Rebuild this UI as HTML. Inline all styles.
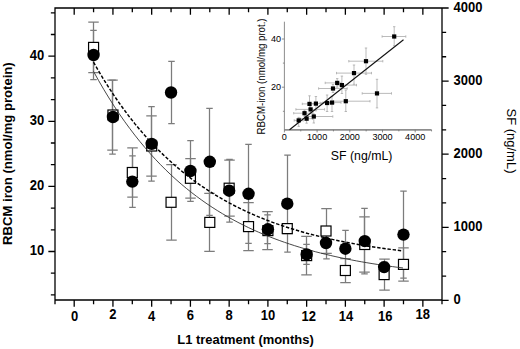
<!DOCTYPE html>
<html><head><meta charset="utf-8"><style>
html,body{margin:0;padding:0;background:#fff;}
svg{display:block;}
</style></head><body>
<svg width="520" height="349" viewBox="0 0 520 349">
<rect x="0" y="0" width="520" height="349" fill="#fff"/>
<path d="M93.50 22.20V72.60M88.25 22.20h10.5M88.25 72.60h10.5M112.50 80.00V150.00M107.25 80.00h10.5M107.25 150.00h10.5M132.50 147.80V197.20M127.25 147.80h10.5M127.25 197.20h10.5M151.50 115.80V176.20M146.25 115.80h10.5M146.25 176.20h10.5M171.50 164.50V240.10M166.25 164.50h10.5M166.25 240.10h10.5M190.50 158.50V198.10M185.25 158.50h10.5M185.25 198.10h10.5M209.50 193.40V251.40M204.25 193.40h10.5M204.25 251.40h10.5M229.50 160.20V216.20M224.25 160.20h10.5M224.25 216.20h10.5M248.50 202.50V250.70M243.25 202.50h10.5M243.25 250.70h10.5M267.50 211.60V249.60M262.25 211.60h10.5M262.25 249.60h10.5M287.50 223.60V233.60M282.25 223.60h10.5M282.25 233.60h10.5M306.50 236.30V274.90M301.25 236.30h10.5M301.25 274.90h10.5M326.50 208.70V253.30M321.25 208.70h10.5M321.25 253.30h10.5M345.50 258.50V282.50M340.25 258.50h10.5M340.25 282.50h10.5M364.50 216.90V272.10M359.25 216.90h10.5M359.25 272.10h10.5M384.50 259.10V290.10M379.25 259.10h10.5M379.25 290.10h10.5M403.50 247.80V281.00M398.25 247.80h10.5M398.25 281.00h10.5" stroke="#7c7c7c" stroke-width="1.25" fill="none"/>
<path d="M93.50 30.40V79.60M90.25 30.40h6.5M90.25 79.60h6.5M112.50 80.00V154.00M109.25 80.00h6.5M109.25 154.00h6.5M132.50 155.90V207.30M129.25 155.90h6.5M129.25 207.30h6.5M151.50 106.60V181.20M148.25 106.60h6.5M148.25 181.20h6.5M171.50 61.30V123.70M168.25 61.30h6.5M168.25 123.70h6.5M190.50 140.60V201.40M187.25 140.60h6.5M187.25 201.40h6.5M209.50 108.30V215.30M206.25 108.30h6.5M206.25 215.30h6.5M229.50 159.40V222.00M226.25 159.40h6.5M226.25 222.00h6.5M248.50 144.30V243.30M245.25 144.30h6.5M245.25 243.30h6.5M267.50 214.90V243.70M264.25 214.90h6.5M264.25 243.70h6.5M287.50 155.20V252.20M284.25 155.20h6.5M284.25 252.20h6.5M306.50 244.40V264.40M303.25 244.40h6.5M303.25 264.40h6.5M326.50 227.20V258.80M323.25 227.20h6.5M323.25 258.80h6.5M345.50 230.30V267.10M342.25 230.30h6.5M342.25 267.10h6.5M364.50 208.30V273.90M361.25 208.30h6.5M361.25 273.90h6.5M384.50 262.10V272.10M381.25 262.10h6.5M381.25 272.10h6.5M403.50 191.00V278.20M400.25 191.00h6.5M400.25 278.20h6.5" stroke="#7c7c7c" stroke-width="1.25" fill="none"/>
<rect x="88.57" y="42.40" width="10" height="10" fill="#fff" stroke="#000" stroke-width="1.2"/>
<rect x="107.94" y="110.00" width="10" height="10" fill="#fff" stroke="#000" stroke-width="1.2"/>
<rect x="127.31" y="167.50" width="10" height="10" fill="#fff" stroke="#000" stroke-width="1.2"/>
<rect x="146.68" y="141.00" width="10" height="10" fill="#fff" stroke="#000" stroke-width="1.2"/>
<rect x="166.05" y="197.30" width="10" height="10" fill="#fff" stroke="#000" stroke-width="1.2"/>
<rect x="185.42" y="173.30" width="10" height="10" fill="#fff" stroke="#000" stroke-width="1.2"/>
<rect x="204.79" y="217.40" width="10" height="10" fill="#fff" stroke="#000" stroke-width="1.2"/>
<rect x="224.16" y="183.20" width="10" height="10" fill="#fff" stroke="#000" stroke-width="1.2"/>
<rect x="243.53" y="221.60" width="10" height="10" fill="#fff" stroke="#000" stroke-width="1.2"/>
<rect x="262.90" y="225.60" width="10" height="10" fill="#fff" stroke="#000" stroke-width="1.2"/>
<rect x="282.27" y="223.60" width="10" height="10" fill="#fff" stroke="#000" stroke-width="1.2"/>
<rect x="301.64" y="250.60" width="10" height="10" fill="#fff" stroke="#000" stroke-width="1.2"/>
<rect x="321.01" y="226.00" width="10" height="10" fill="#fff" stroke="#000" stroke-width="1.2"/>
<rect x="340.38" y="265.50" width="10" height="10" fill="#fff" stroke="#000" stroke-width="1.2"/>
<rect x="359.75" y="239.50" width="10" height="10" fill="#fff" stroke="#000" stroke-width="1.2"/>
<rect x="379.12" y="269.60" width="10" height="10" fill="#fff" stroke="#000" stroke-width="1.2"/>
<rect x="398.49" y="259.40" width="10" height="10" fill="#fff" stroke="#000" stroke-width="1.2"/>
<path d="M93.50,71.38 L98.66,80.65 L103.82,89.51 L108.97,97.99 L114.13,106.09 L119.29,113.83 L124.45,121.24 L129.61,128.31 L134.77,135.08 L139.93,141.55 L145.08,147.73 L150.24,153.65 L155.40,159.30 L160.56,164.70 L165.72,169.87 L170.88,174.81 L176.03,179.53 L181.19,184.04 L186.35,188.36 L191.51,192.49 L196.67,196.43 L201.82,200.20 L206.98,203.81 L212.14,207.25 L217.30,210.55 L222.46,213.70 L227.62,216.71 L232.78,219.59 L237.93,222.34 L243.09,224.97 L248.25,227.49 L253.41,229.89 L258.57,232.19 L263.73,234.39 L268.88,236.49 L274.04,238.50 L279.20,240.42 L284.36,242.25 L289.52,244.01 L294.68,245.69 L299.83,247.29 L304.99,248.83 L310.15,250.29 L315.31,251.69 L320.47,253.03 L325.62,254.31 L330.78,255.54 L335.94,256.71 L341.10,257.83 L346.26,258.90 L351.42,259.92 L356.57,260.90 L361.73,261.84 L366.89,262.73 L372.05,263.58 L377.21,264.40 L382.37,265.18 L387.52,265.93 L392.68,266.64 L397.84,267.33 L403.00,267.98" stroke="#333" stroke-width="0.9" fill="none"/>
<path d="M93.50,62.13 L98.66,71.09 L103.82,79.65 L108.97,87.83 L114.13,95.64 L119.29,103.12 L124.45,110.26 L129.61,117.08 L134.77,123.60 L139.93,129.83 L145.08,135.79 L150.24,141.48 L155.40,146.92 L160.56,152.12 L165.72,157.08 L170.88,161.83 L176.03,166.37 L181.19,170.70 L186.35,174.85 L191.51,178.81 L196.67,182.59 L201.82,186.21 L206.98,189.67 L212.14,192.97 L217.30,196.13 L222.46,199.14 L227.62,202.03 L232.78,204.78 L237.93,207.41 L243.09,209.93 L248.25,212.33 L253.41,214.63 L258.57,216.83 L263.73,218.93 L268.88,220.93 L274.04,222.85 L279.20,224.68 L284.36,226.43 L289.52,228.11 L294.68,229.71 L299.83,231.23 L304.99,232.70 L310.15,234.09 L315.31,235.42 L320.47,236.70 L325.62,237.92 L330.78,239.08 L335.94,240.19 L341.10,241.26 L346.26,242.27 L351.42,243.24 L356.57,244.17 L361.73,245.06 L366.89,245.91 L372.05,246.72 L377.21,247.49 L382.37,248.23 L387.52,248.94 L392.68,249.61 L397.84,250.26 L403.00,250.88" stroke="#000" stroke-width="1.45" fill="none" stroke-dasharray="3.4 1.8"/>
<circle cx="93.57" cy="55.00" r="6.2" fill="#000"/>
<circle cx="112.94" cy="117.00" r="6.2" fill="#000"/>
<circle cx="132.31" cy="181.60" r="6.2" fill="#000"/>
<circle cx="151.68" cy="143.90" r="6.2" fill="#000"/>
<circle cx="171.05" cy="92.50" r="6.2" fill="#000"/>
<circle cx="190.42" cy="171.00" r="6.2" fill="#000"/>
<circle cx="209.79" cy="161.80" r="6.2" fill="#000"/>
<circle cx="229.16" cy="190.70" r="6.2" fill="#000"/>
<circle cx="248.53" cy="193.80" r="6.2" fill="#000"/>
<circle cx="267.90" cy="229.30" r="6.2" fill="#000"/>
<circle cx="287.27" cy="203.70" r="6.2" fill="#000"/>
<circle cx="306.64" cy="254.40" r="6.2" fill="#000"/>
<circle cx="326.01" cy="243.00" r="6.2" fill="#000"/>
<circle cx="345.38" cy="248.70" r="6.2" fill="#000"/>
<circle cx="364.75" cy="241.10" r="6.2" fill="#000"/>
<circle cx="384.12" cy="267.10" r="6.2" fill="#000"/>
<circle cx="403.49" cy="234.60" r="6.2" fill="#000"/>
<path d="M55 8H442V300H55ZM55.00 300v3.5M55.00 8v3.5M74.20 300v6M74.20 8v6M93.57 300v3.5M93.57 8v3.5M112.94 300v6M112.94 8v6M132.31 300v3.5M132.31 8v3.5M151.68 300v6M151.68 8v6M171.05 300v3.5M171.05 8v3.5M190.42 300v6M190.42 8v6M209.79 300v3.5M209.79 8v3.5M229.16 300v6M229.16 8v6M248.53 300v3.5M248.53 8v3.5M267.90 300v6M267.90 8v6M287.27 300v3.5M287.27 8v3.5M306.64 300v6M306.64 8v6M326.01 300v3.5M326.01 8v3.5M345.38 300v6M345.38 8v6M364.75 300v3.5M364.75 8v3.5M384.12 300v6M384.12 8v6M403.49 300v3.5M403.49 8v3.5M422.86 300v6M422.86 8v6M442.00 300v3.5M442.00 8v3.5M55 56.20h-6M55 77.90h-3.5M55 99.60h-3.5M55 121.30h-6M55 143.00h-3.5M55 164.70h-3.5M55 186.40h-6M55 208.10h-3.5M55 229.80h-3.5M55 251.50h-6M55 273.20h-3.5M55 294.90h-3.5M55 34.50h-3.5M55 12.80h-3.5M442 300.40h6M442 276.03h3.5M442 251.67h3.5M442 227.30h6M442 202.93h3.5M442 178.57h3.5M442 154.20h6M442 129.83h3.5M442 105.47h3.5M442 81.10h6M442 56.73h3.5M442 32.37h3.5M442 8.00h6" stroke="#000" stroke-width="1.3" fill="none" stroke-linecap="square"/>
<text transform="translate(44.30 255.10) scale(0.93 1)" font-family="Liberation Sans, sans-serif" font-weight="bold" font-size="14" text-anchor="end" fill="#000">10</text>
<text transform="translate(44.30 190.00) scale(0.93 1)" font-family="Liberation Sans, sans-serif" font-weight="bold" font-size="14" text-anchor="end" fill="#000">20</text>
<text transform="translate(44.30 124.90) scale(0.93 1)" font-family="Liberation Sans, sans-serif" font-weight="bold" font-size="14" text-anchor="end" fill="#000">30</text>
<text transform="translate(44.30 59.80) scale(0.93 1)" font-family="Liberation Sans, sans-serif" font-weight="bold" font-size="14" text-anchor="end" fill="#000">40</text>
<text transform="translate(74.60 320.60) scale(0.93 1)" font-family="Liberation Sans, sans-serif" font-weight="bold" font-size="14" text-anchor="middle" fill="#000">0</text>
<text transform="translate(112.94 319.10) scale(0.93 1)" font-family="Liberation Sans, sans-serif" font-weight="bold" font-size="14" text-anchor="middle" fill="#000">2</text>
<text transform="translate(151.68 321.30) scale(0.93 1)" font-family="Liberation Sans, sans-serif" font-weight="bold" font-size="14" text-anchor="middle" fill="#000">4</text>
<text transform="translate(190.42 319.90) scale(0.93 1)" font-family="Liberation Sans, sans-serif" font-weight="bold" font-size="14" text-anchor="middle" fill="#000">6</text>
<text transform="translate(229.16 320.10) scale(0.93 1)" font-family="Liberation Sans, sans-serif" font-weight="bold" font-size="14" text-anchor="middle" fill="#000">8</text>
<text transform="translate(267.90 320.10) scale(0.93 1)" font-family="Liberation Sans, sans-serif" font-weight="bold" font-size="14" text-anchor="middle" fill="#000">10</text>
<text transform="translate(308.64 320.90) scale(0.93 1)" font-family="Liberation Sans, sans-serif" font-weight="bold" font-size="14" text-anchor="middle" fill="#000">12</text>
<text transform="translate(346.08 320.90) scale(0.93 1)" font-family="Liberation Sans, sans-serif" font-weight="bold" font-size="14" text-anchor="middle" fill="#000">14</text>
<text transform="translate(385.32 320.70) scale(0.93 1)" font-family="Liberation Sans, sans-serif" font-weight="bold" font-size="14" text-anchor="middle" fill="#000">16</text>
<text transform="translate(422.86 319.20) scale(0.93 1)" font-family="Liberation Sans, sans-serif" font-weight="bold" font-size="14" text-anchor="middle" fill="#000">18</text>
<text transform="translate(453.60 304.00) scale(0.93 1)" font-family="Liberation Sans, sans-serif" font-weight="bold" font-size="14" text-anchor="start" fill="#000">0</text>
<text transform="translate(453.60 230.90) scale(0.93 1)" font-family="Liberation Sans, sans-serif" font-weight="bold" font-size="14" text-anchor="start" fill="#000">1000</text>
<text transform="translate(453.60 157.80) scale(0.93 1)" font-family="Liberation Sans, sans-serif" font-weight="bold" font-size="14" text-anchor="start" fill="#000">2000</text>
<text transform="translate(453.60 84.70) scale(0.93 1)" font-family="Liberation Sans, sans-serif" font-weight="bold" font-size="14" text-anchor="start" fill="#000">3000</text>
<text transform="translate(453.60 11.60) scale(0.93 1)" font-family="Liberation Sans, sans-serif" font-weight="bold" font-size="14" text-anchor="start" fill="#000">4000</text>
<text transform="translate(245.50 343.80) scale(0.965 1)" font-family="Liberation Sans, sans-serif" font-weight="bold" font-size="13.4" text-anchor="middle" fill="#000">L1 treatment (months)</text>
<text transform="translate(11.50 153.60) rotate(-90)" font-family="Liberation Sans, sans-serif" font-weight="bold" font-size="13.1" text-anchor="middle" fill="#000">RBCM iron (nmol/mg protein)</text>
<text transform="translate(507.00 141.00) rotate(90)" font-family="Liberation Sans, sans-serif" font-size="13" text-anchor="middle" fill="#000">SF (ng/mL)</text>
<path d="M284.4 21.7V129.9H431.5M284.40 129.9v2.5M300.75 129.9v1.5M317.10 129.9v2.5M333.45 129.9v1.5M349.80 129.9v2.5M366.15 129.9v1.5M382.50 129.9v2.5M398.85 129.9v1.5M415.20 129.9v2.5M431.55 129.9v1.5M284.4 111.30h-1.5M284.4 87.20h-2.5M284.4 63.10h-1.5M284.4 39.00h-2.5" stroke="#808080" stroke-width="0.9" fill="none"/>
<path d="M284.4 129.9H431.5" stroke="#666" stroke-width="0.9" fill="none"/>
<text x="284.40" y="139.8" font-family="Liberation Sans, sans-serif" font-size="9.1" text-anchor="middle" fill="#000">0</text>
<text x="317.10" y="139.8" font-family="Liberation Sans, sans-serif" font-size="9.1" text-anchor="middle" fill="#000">1000</text>
<text x="349.80" y="139.8" font-family="Liberation Sans, sans-serif" font-size="9.1" text-anchor="middle" fill="#000">2000</text>
<text x="382.50" y="139.8" font-family="Liberation Sans, sans-serif" font-size="9.1" text-anchor="middle" fill="#000">3000</text>
<text x="415.20" y="139.8" font-family="Liberation Sans, sans-serif" font-size="9.1" text-anchor="middle" fill="#000">4000</text>
<text x="281" y="90.30" font-family="Liberation Sans, sans-serif" font-size="9.1" text-anchor="end" fill="#000">20</text>
<text x="281" y="42.10" font-family="Liberation Sans, sans-serif" font-size="9.1" text-anchor="end" fill="#000">40</text>
<text x="361.6" y="159.8" font-family="Liberation Sans, sans-serif" font-size="12.3" text-anchor="middle">SF (ng/mL)</text>
<text transform="translate(264.9 76.4) rotate(-90) scale(0.93 1)" font-family="Liberation Sans, sans-serif" font-size="10.4" text-anchor="middle">RBCM-iron (nmol/mg prot.)</text>
<path d="M294.20 120.40H303.20M298.70 117.40V126.40M294.20 119.20v2.4M303.20 119.20v2.4M297.50 117.40h2.4M297.50 126.40h2.4M300.60 118.70H312.60M306.60 115.70V123.20M300.60 117.50v2.4M312.60 117.50v2.4M305.40 115.70h2.4M305.40 123.20h2.4M305.80 116.50H332.80M313.80 114.00V123.00M305.80 115.30v2.4M332.80 115.30v2.4M312.60 114.00h2.4M312.60 123.00h2.4M293.70 113.20H313.00M304.50 110.20V116.20M293.70 112.00v2.4M313.00 112.00v2.4M303.30 110.20h2.4M303.30 116.20h2.4M295.90 109.40H324.60M310.60 105.90V112.90M295.90 108.20v2.4M324.60 108.20v2.4M309.40 105.90h2.4M309.40 112.90h2.4M302.30 103.90H316.50M309.50 95.80V108.70M302.30 102.70v2.4M316.50 102.70v2.4M308.30 95.80h2.4M308.30 108.70h2.4M309.90 103.60H321.90M315.90 96.50V110.80M309.90 102.40v2.4M321.90 102.40v2.4M314.70 96.50h2.4M314.70 110.80h2.4M320.10 103.00H334.10M327.10 95.00V111.50M320.10 101.80v2.4M334.10 101.80v2.4M325.90 95.00h2.4M325.90 111.50h2.4M323.00 102.60H341.00M332.00 96.50V111.50M323.00 101.40v2.4M341.00 101.40v2.4M330.80 96.50h2.4M330.80 111.50h2.4M333.60 101.20H370.00M345.80 90.00V111.50M333.60 100.00v2.4M370.00 100.00v2.4M344.60 90.00h2.4M344.60 111.50h2.4M318.60 88.50H347.20M333.00 84.50V92.50M318.60 87.30v2.4M347.20 87.30v2.4M331.80 84.50h2.4M331.80 92.50h2.4M325.20 82.90H341.20M337.20 78.60V87.20M325.20 81.70v2.4M341.20 81.70v2.4M336.00 78.60h2.4M336.00 87.20h2.4M336.90 85.10H356.50M341.90 76.10V93.50M336.90 83.90v2.4M356.50 83.90v2.4M340.70 76.10h2.4M340.70 93.50h2.4M336.50 73.10H371.50M354.00 65.00V84.30M336.50 71.90v2.4M371.50 71.90v2.4M352.80 65.00h2.4M352.80 84.30h2.4M348.80 61.20H382.80M366.00 48.00V74.30M348.80 60.00v2.4M382.80 60.00v2.4M364.80 48.00h2.4M364.80 74.30h2.4M362.20 93.40H391.50M377.00 79.30V107.90M362.20 92.20v2.4M391.50 92.20v2.4M375.80 79.30h2.4M375.80 107.90h2.4M382.10 36.50H405.80M394.20 26.70V45.70M382.10 35.30v2.4M405.80 35.30v2.4M393.00 26.70h2.4M393.00 45.70h2.4" stroke="#aaa" stroke-width="0.8" fill="none"/>
<path d="M289.5 129.8L403.5 39.7" stroke="#111" stroke-width="1.1" fill="none"/>
<rect x="296.60" y="118.30" width="4.2" height="4.2" fill="#000"/>
<rect x="304.50" y="116.60" width="4.2" height="4.2" fill="#000"/>
<rect x="311.70" y="114.40" width="4.2" height="4.2" fill="#000"/>
<rect x="302.40" y="111.10" width="4.2" height="4.2" fill="#000"/>
<rect x="308.50" y="107.30" width="4.2" height="4.2" fill="#000"/>
<rect x="307.40" y="101.80" width="4.2" height="4.2" fill="#000"/>
<rect x="313.80" y="101.50" width="4.2" height="4.2" fill="#000"/>
<rect x="325.00" y="100.90" width="4.2" height="4.2" fill="#000"/>
<rect x="329.90" y="100.50" width="4.2" height="4.2" fill="#000"/>
<rect x="343.70" y="99.10" width="4.2" height="4.2" fill="#000"/>
<rect x="330.90" y="86.40" width="4.2" height="4.2" fill="#000"/>
<rect x="335.10" y="80.80" width="4.2" height="4.2" fill="#000"/>
<rect x="339.80" y="83.00" width="4.2" height="4.2" fill="#000"/>
<rect x="351.90" y="71.00" width="4.2" height="4.2" fill="#000"/>
<rect x="363.90" y="59.10" width="4.2" height="4.2" fill="#000"/>
<rect x="374.90" y="91.30" width="4.2" height="4.2" fill="#000"/>
<rect x="392.10" y="34.40" width="4.2" height="4.2" fill="#000"/>
</svg>
</body></html>
